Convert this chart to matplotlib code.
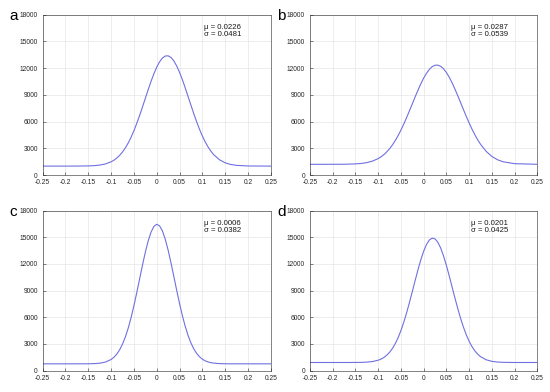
import matplotlib
matplotlib.use("Agg")
import matplotlib.pyplot as plt

# --- data ---
x = [-0.25, -0.2, -0.175, -0.15, -0.1375, -0.125, -0.1125,
     -0.1, -0.09375, -0.0875, -0.08125, -0.075, -0.06875, -0.0625, -0.05625,
     -0.05, -0.04375, -0.0375, -0.03125, -0.025, -0.01875, -0.0125, -0.00625,
     0, 0.00625, 0.0125, 0.01875, 0.025, 0.03125, 0.0375, 0.04375,
     0.05, 0.05625, 0.0625, 0.06875, 0.075, 0.08125, 0.0875, 0.09375,
     0.1, 0.10625, 0.1125, 0.11875, 0.125,
     0.1375, 0.15, 0.1625, 0.175, 0.2, 0.25]

curve_a = [1000, 1000, 1003, 1020, 1049, 1112, 1240,
           1481, 1665, 1903, 2205, 2582, 3042, 3592, 4235,
           4968, 5789, 6679, 7627, 8599, 9570, 10501, 11359,
           12104, 12703, 13128, 13360, 13385, 13202, 12818, 12257,
           11540, 10709, 9792, 8826, 7851, 6896, 5991, 5153,
           4396, 3733, 3161, 2681, 2286,
           1715, 1372, 1180, 1082, 1014, 1000]
curve_b = [1200, 1201, 1209, 1246, 1296, 1391, 1561,
           1844, 2044, 2292, 2592, 2951, 3374, 3865, 4420,
           5040, 5718, 6444, 7207, 7988, 8768, 9526, 10236,
           10876, 11425, 11857, 12162, 12324, 12338, 12203, 11924,
           11513, 10984, 10360, 9660, 8909, 8132, 7350, 6582,
           5848, 5161, 4529, 3962, 3460,
           2654, 2086, 1712, 1480, 1271, 1202]
curve_c = [750, 750, 750, 757, 773, 820, 946,
           1240, 1493, 1847, 2331, 2965, 3771, 4761, 5937,
           7280, 8752, 10297, 11840, 13291, 14560, 15554, 16199,
           16449, 16279, 15706, 14773, 13553, 12129, 10595, 9044,
           7553, 6182, 4973, 3947, 3105, 2441, 1931, 1553,
           1281, 1092, 965, 881, 829,
           775, 758, 751, 751, 750, 750]
curve_d = [900, 900, 900, 905, 914, 941, 1008,
           1158, 1287, 1468, 1715, 2045, 2474, 3018, 3689,
           4492, 5429, 6489, 7647, 8873, 10119, 11331, 12451,
           13419, 14176, 14677, 14893, 14808, 14427, 13774, 12892,
           11830, 10650, 9412, 8170, 6979, 5873, 4882, 4019,
           3291, 2693, 2217, 1846, 1565,
           1208, 1031, 951, 918, 900, 900]

panel_labels = ["a", "b", "c", "d"]
mus = ["0.0226", "0.0287", "0.0006", "0.0201"]
sigmas = ["0.0481", "0.0539", "0.0382", "0.0425"]
curves = [curve_a, curve_b, curve_c, curve_d]

xticks = [-0.25, -0.2, -0.15, -0.1, -0.05, 0, 0.05, 0.1, 0.15, 0.2, 0.25]
xticklabels = ["-0.25", "-0.2", "-0.15", "-0.1", "-0.05", "0", "0.05", "0.1", "0.15", "0.2", "0.25"]
yticks = [0, 3000, 6000, 9000, 12000, 15000, 18000]

plt.rcParams["font.family"] = ["Liberation Sans", "DejaVu Sans"]

fig = plt.figure(figsize=(5.5, 3.92), dpi=100)

# axes boxes in pixels: left, top, right, bottom
W, H = 550, 392
boxes = [
    (42.7, 14.7, 270.7, 175.0),
    (310.0, 14.7, 537.3, 175.0),
    (42.7, 210.5, 270.7, 370.5),
    (310.0, 210.5, 537.3, 370.5),
]

for i in range(4):
    l, t, r, b = boxes[i]
    ax = fig.add_axes([l / W, 1 - b / H, (r - l) / W, (b - t) / H])
    ax.plot(x, curves[i], color="#7070e0", lw=0.8)
    ax.set_xlim(-0.25, 0.25)
    ax.set_ylim(0, 18000)
    ax.set_xticks(xticks)
    ax.set_xticklabels(xticklabels)
    ax.set_yticks(yticks)
    ax.grid(True, color="#e6e6e6", lw=0.5)
    ax.set_axisbelow(True)
    ax.tick_params(direction="in", length=2, width=0.4, labelsize=4.8,
                   colors="#262626")
    ax.tick_params(axis="x", pad=3.2)
    ax.tick_params(axis="y", pad=3.5)
    for s in ax.spines.values():
        s.set_color("#262626")
        s.set_linewidth(0.4)
    ax.text(0.707, 0.921, "\u03bc = " + mus[i], transform=ax.transAxes,
            fontsize=5.6, va="center", ha="left", color="#1a1a1a")
    ax.text(0.707, 0.877, "\u03c3 = " + sigmas[i], transform=ax.transAxes,
            fontsize=5.6, va="center", ha="left", color="#1a1a1a")
    fig.text((l - 33) / W, 1 - (t + 1) / H, panel_labels[i], fontsize=11,
             va="center", ha="left", color="black")

fig.savefig("out.png", dpi=100)
